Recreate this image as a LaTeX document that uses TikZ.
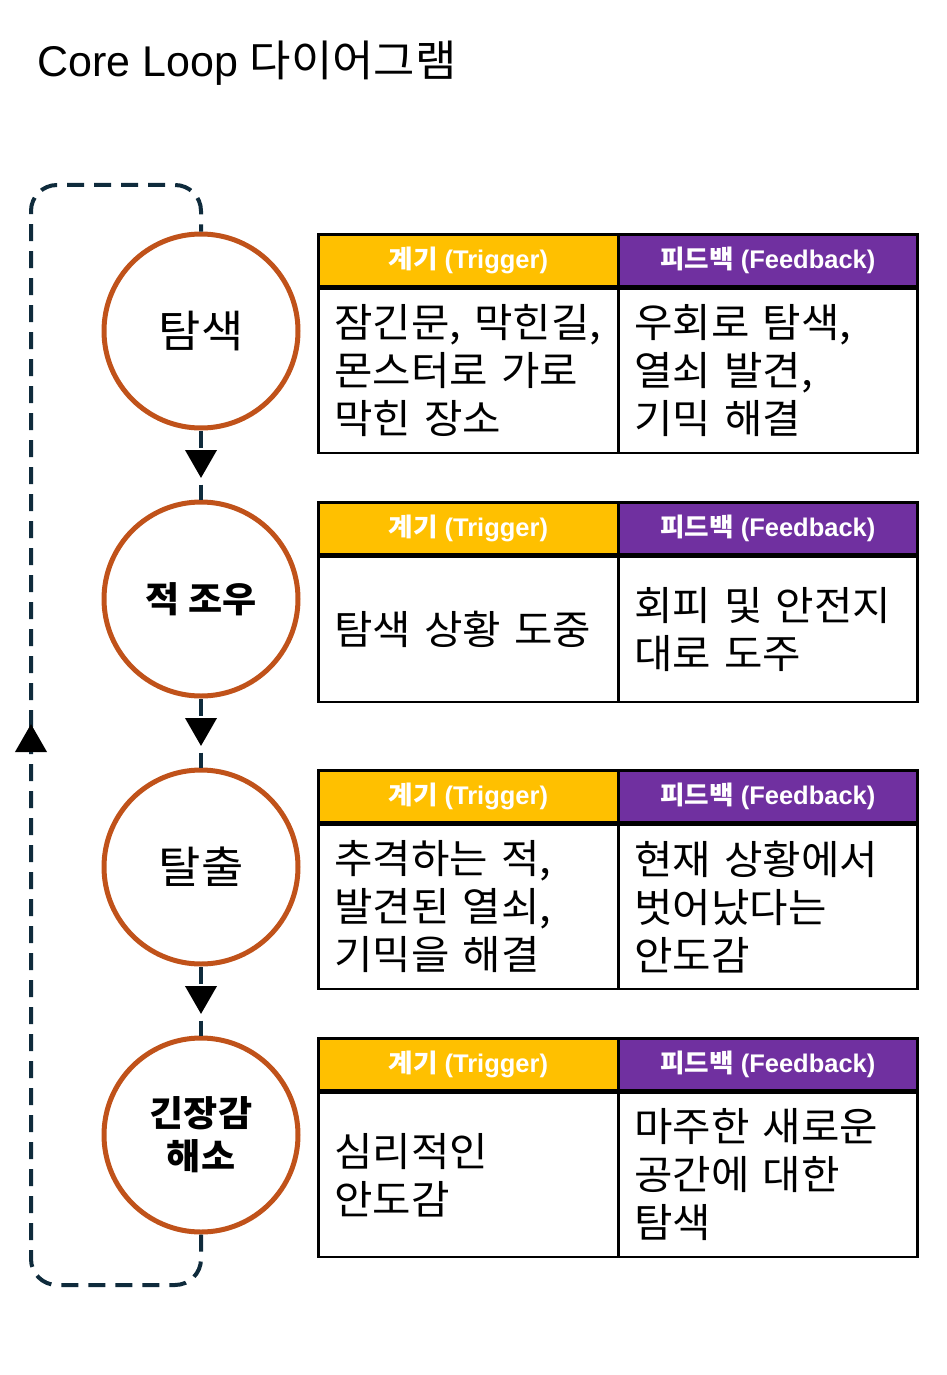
\documentclass[tikz,border=0pt]{standalone}
\usepackage{fontspec}
\setmainfont{Liberation Sans}
\newfontfamily\kr{Noto Sans CJK KR}[FakeStretch=1.045]
\usetikzlibrary{arrows.meta,decorations.markings}
\definecolor{circo}{HTML}{C0521A}
\definecolor{navy}{HTML}{0F2B3C}
\definecolor{gold}{HTML}{FFC000}
\definecolor{purp}{HTML}{7030A0}
\newcommand\widesp{\spaceskip=0.33em\relax}
\newcommand\gtable[5]{%
  \node[hdr,fill=gold,minimum width=300pt,anchor=north west] (#1tl) at (317,#2) {{\kr 계기} (Trigger)};
  \node[hdr,fill=purp,minimum width=299pt,anchor=north west] (#1tr) at (617,#2) {{\kr 피드백} (Feedback)};
  \node[bodycell,minimum width=300pt,minimum height=#3 pt,anchor=north west] (#1bl) at (#1tl.south west) {};
  \node[bodycell,minimum width=299pt,minimum height=#3 pt,anchor=north west] (#1br) at (#1tr.south west) {};
  \node[bodytxt] (#1lt) at ([xshift=17pt]#1bl.west) {#4};
  \node[bodytxt] (#1rt) at ([xshift=17pt]#1br.west) {#5};
}
\begin{document}
\begin{tikzpicture}[x=1pt,y=-1pt,
  circ/.style={circle,draw=circo,line width=5pt,minimum size=194pt,inner sep=0pt,fill=white,align=center},
  regtxt/.style={font=\kr\fontsize{44}{50}\selectfont},
  boldtxt/.style={font=\kr\bfseries\fontsize{35.5}{43}\selectfont},
  hdr/.style={draw=black,line width=2.5pt,minimum height=52pt,inner sep=0pt,text=white,font=\bfseries\fontsize{25.5}{30}\selectfont},
  bodycell/.style={draw=black,line width=2.5pt,inner sep=0pt},
  bodytxt/.style={anchor=west,align=left,inner sep=0pt,font=\kr\fontsize{40}{48}\selectfont,execute at begin node=\widesp},
  flow/.style={draw=navy,line width=4pt,dash pattern=on 17pt off 10pt,
    decoration={markings,mark=at position 0.5 with {\arrow[black,xshift=13pt]{Triangle[width=31pt,length=28pt]}}},
    postaction={decorate}},
]
\useasboundingbox (0,0) rectangle (946,1375);
\node[anchor=base west,inner sep=0pt,font=\fontsize{43}{50}\selectfont] (title) at (37,77) {Core Loop {\kr 다이어그램}};

\node[circ,regtxt] (c1) at (201,331) {탐색};
\node[circ,boldtxt] (c2) at (201,599) {적 조우};
\node[circ,regtxt] (c3) at (201,867) {탈출};
\node[circ,boldtxt] (c4) at (201,1135) {긴장감\\해소};

\coordinate (l1) at (201,1285);
\coordinate (l2) at (31,1285);
\coordinate (l3) at (31,185);
\coordinate (l4) at (201,185);

\draw[flow,rounded corners=26pt] (c4.south) -- (l1) -- (l2) -- (l3) -- (l4) -- (c1.north);
\draw[flow] (c1.south) -- (c2.north);
\draw[flow] (c2.south) -- (c3.north);
\draw[flow] (c3.south) -- (c4.north);

\gtable{a}{233}{164}{잠긴문, 막힌길,\\몬스터로 가로\\막힌 장소}{우회로 탐색,\\열쇠 발견,\\기믹 해결}
\gtable{b}{501}{145}{탐색 상황 도중}{회피 및 안전지\\대로 도주}
\gtable{c}{769}{164}{추격하는 적,\\발견된 열쇠,\\기믹을 해결}{현재 상황에서\\벗어났다는\\안도감}
\gtable{d}{1037}{164}{심리적인\\안도감}{마주한 새로운\\공간에 대한\\탐색}
\end{tikzpicture}
\end{document}
